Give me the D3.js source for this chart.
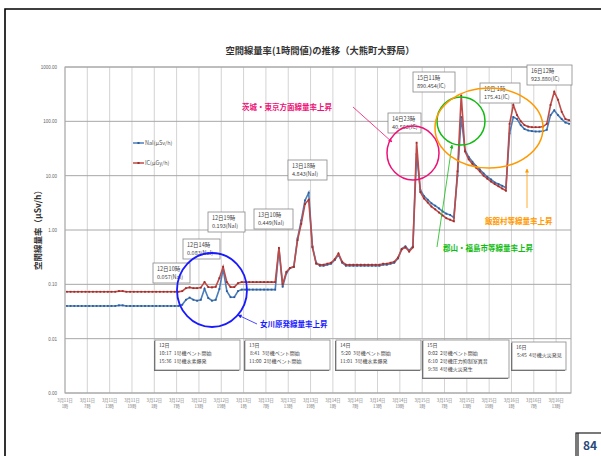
<!DOCTYPE html>
<html><head><meta charset="utf-8">
<script src="https://cdn.jsdelivr.net/npm/d3@7"></script>
<style>
body{margin:0;background:#fff;}
svg{display:block;font-family:"Noto Sans CJK JP","Noto Sans",sans-serif;}
</style></head><body>
<div id="chart"></div>
<script>
// hourly categories, 3/11 1時 ...
var hourCount = 136
var categories = d3.range(hourCount).map(function(i) {
    var t = i + 1
    return "3月" + (11 + Math.floor(t / 24)) + "日 " + (t % 24) + "時"
})

// NaI (μSv/h)
var nai = [
    0.040, 0.040, 0.040, 0.040, 0.040, 0.040, 0.040, 0.040, 0.040, 0.040,
    0.040, 0.040, 0.040, 0.040, 0.041, 0.041, 0.040, 0.040, 0.040, 0.040,
    0.040, 0.040, 0.040, 0.040, 0.040, 0.040, 0.040, 0.040, 0.040, 0.040,
    0.040, 0.042, 0.052, 0.057, 0.052, 0.050, 0.052, 0.083, 0.056, 0.050,
    0.052, 0.082, 0.193, 0.075, 0.058, 0.058, 0.075, 0.080, 0.080, 0.080,
    0.080, 0.080, 0.080, 0.080, 0.080, 0.080, 0.080, 0.449, 0.090, 0.160,
    0.200, 0.210, 0.700, 1.500, 3.500, 4.843, 0.500, 0.250, 0.220, 0.220,
    0.230, 0.240, 0.280, 0.350, 0.250, 0.220, 0.220, 0.220, 0.220, 0.220,
    0.220, 0.220, 0.220, 0.220, 0.220, 0.230, 0.230, 0.240, 0.250, 0.300,
    0.450, 0.500, 0.420, 0.500, 25.0, 5.50, 4.20, 3.60, 3.10, 2.80,
    2.50, 2.20, 2.00, 1.90, 1.70, 10.0, 120, 30.0, 22.0, 18.0,
    15.0, 13.0, 11.0, 9.50, 8.50, 7.50, 7.00, 6.50, 6.00, 60.0,
    120, 110, 85.0, 72.0, 68.0, 66.0, 65.0, 65.0, 66.0, 70.0,
    130, 160, 130, 110, 95.0, 90.0
]

// IC (μGy/h)
var ic = [
    0.073, 0.073, 0.073, 0.073, 0.073, 0.073, 0.073, 0.073, 0.073, 0.073,
    0.073, 0.073, 0.073, 0.073, 0.075, 0.075, 0.073, 0.073, 0.073, 0.073,
    0.073, 0.073, 0.073, 0.073, 0.073, 0.073, 0.073, 0.073, 0.073, 0.073,
    0.073, 0.075, 0.085, 0.088, 0.085, 0.085, 0.087, 0.110, 0.089, 0.088,
    0.090, 0.130, 0.210, 0.110, 0.089, 0.089, 0.105, 0.110, 0.110, 0.110,
    0.110, 0.110, 0.110, 0.110, 0.110, 0.110, 0.110, 0.470, 0.100, 0.170,
    0.200, 0.210, 0.650, 1.300, 3.000, 3.600, 0.480, 0.240, 0.230, 0.230,
    0.240, 0.250, 0.290, 0.370, 0.260, 0.230, 0.230, 0.230, 0.230, 0.230,
    0.230, 0.230, 0.230, 0.230, 0.230, 0.240, 0.240, 0.250, 0.260, 0.310,
    0.440, 0.480, 0.400, 0.480, 40.5, 5.00, 3.80, 3.20, 2.70, 2.40,
    2.10, 1.85, 1.65, 1.55, 1.45, 12.0, 300, 28.0, 20.0, 16.5,
    14.0, 12.0, 10.0, 8.80, 7.80, 7.00, 6.40, 5.80, 5.30, 90.0,
    200, 130, 100, 85.0, 80.0, 78.0, 78.0, 78.0, 80.0, 90.0,
    200, 350, 250, 150, 110, 105
]

var yTicks = [0.001, 0.01, 0.1, 1, 10, 100, 1000]

// peak labels: [category index, line1, line2, box x, box y, box w]
var peakNotes = [
    [33, "12日10時", "0.057(NaI)", 153, 263, 37],
    [37, "12日14時", "0.083(NaI)", 183, 239, 37],
    [42, "12日19時", "0.193(NaI)", 208, 212, 37],
    [57, "13日10時", "0.449(NaI)", 254, 209, 39],
    [65, "13日18時", "4.843(NaI)", 288, 160, 39],
    [94, "14日23時", "40.563(IC)", 388, 113, 33],
    [106, "15日11時", "890.454(IC)", 413, 72, 42],
    [120, "16日 1時", "175.41(IC)", 480, 83, 40],
    [131, "16日12時", "923.880(IC)", 527, 65, 45]
]

var eventNotes = [
    [["12日", "10:17  1号機ベント開始", "15:36  1号機水素爆発"], 155, 340, 85, 30],
    [["13日", " 8:41  3号機ベント開始", "11:00  2号機ベント開始"], 245, 340, 85, 30],
    [["14日", " 5:20  3号機ベント開始", "11:01  3号機水素爆発"], 336, 340, 85, 30],
    [["15日", " 0:02  2号機ベント開始", " 6:10  2号機圧力抑制室異音", " 9:38  4号機火災発生"], 423, 340, 86, 38],
    [["16日", " 5:45  4号機火災発見"], 512, 342, 54, 28]
]

var width = 601, height = 456
var margin = { top: 67, right: 30, bottom: 63, left: 65 }

var svg = d3.select("#chart").append("svg")
    .attr("width", width)
    .attr("height", height)

// page frame
svg.append("path").attr("d", "M5,456V9H601").attr("fill", "none").attr("stroke", "#000").attr("stroke-width", 1.6)

var x = d3.scaleBand()
    .domain(categories)
    .range([margin.left, width - margin.right])

var y = d3.scaleLog()
    .domain([0.001, 1000])
    .range([height - margin.bottom, margin.top])

function cx(i) { return x(categories[i]) + x.bandwidth() / 2 }

// title
svg.append("text")
    .attr("x", 320).attr("y", 54)
    .attr("text-anchor", "middle")
    .style("font-size", "9.3px").style("font-weight", "bold").attr("fill", "#333")
    .text("空間線量率(1時間値)の推移（大熊町大野局）")

// vertical grid every 6 hours
var g = svg.append("g")
var tickCats = categories.filter(function(d, i) { return i % 6 == 0 })
g.selectAll(".vg")
    .data(tickCats)
    .enter().append("line")
    .attr("x1", function(d) { return x(d) }).attr("x2", function(d) { return x(d) })
    .attr("y1", y(1000)).attr("y2", y(0.001))
    .attr("stroke", "#c8c8c8").attr("stroke-width", 0.8)

// horizontal grid
g.selectAll(".hg")
    .data(yTicks)
    .enter().append("line")
    .attr("x1", margin.left).attr("x2", width - margin.right)
    .attr("y1", function(d) { return y(d) }).attr("y2", function(d) { return y(d) })
    .attr("stroke", "#a8a8a8").attr("stroke-width", 1)

g.append("rect")
    .attr("x", margin.left).attr("y", margin.top)
    .attr("width", width - margin.left - margin.right)
    .attr("height", height - margin.top - margin.bottom)
    .attr("fill", "none").attr("stroke", "#a8a8a8")

// y axis
var yAxis = d3.axisLeft(y).tickValues(yTicks).tickFormat(d3.format(".2f")).tickSize(0).tickPadding(8)
svg.append("g")
    .attr("transform", "translate(" + margin.left + ",0)")
    .call(yAxis)
    .call(function(s) { s.select(".domain").remove() })
    .selectAll("text").style("font-size", "4.5px").attr("fill", "#666")

svg.append("text")
    .attr("transform", "translate(41,228) rotate(-90)")
    .attr("text-anchor", "middle")
    .style("font-size", "8.5px").style("font-weight", "bold").attr("fill", "#333")
    .text("空間線量率（μSv/h）")

// x axis labels (two lines)
var xl = svg.append("g")
tickCats.forEach(function(d) {
    var parts = d.split(" ")
    var t = xl.append("text")
        .attr("x", x(d)).attr("y", y(0.001) + 9)
        .attr("text-anchor", "middle")
        .style("font-size", "4.2px").attr("fill", "#777")
    t.append("tspan").attr("x", x(d)).text(parts[0])
    t.append("tspan").attr("x", x(d)).attr("dy", 6).text(parts[1])
})

// series
var line = d3.line()
    .x(function(d, i) { return cx(i) })
    .y(function(d) { return y(d) })

var seriesList = [
    { name: "NaI(μSv/h)", values: nai, color: "#4a7ebb", mark: "#2e5c9a" },
    { name: "IC(μGy/h)", values: ic, color: "#be4b48", mark: "#9c2f2c" }
]

seriesList.forEach(function(s) {
    svg.append("path")
        .attr("d", line(s.values))
        .attr("fill", "none").attr("stroke", s.color).attr("stroke-width", 1.6)
    svg.append("g").selectAll("rect")
        .data(s.values)
        .enter().append("rect")
        .attr("x", function(d, i) { return cx(i) - 0.9 })
        .attr("y", function(d) { return y(d) - 0.9 })
        .attr("width", 1.8).attr("height", 1.8)
        .attr("fill", s.mark)
})

// legend
seriesList.forEach(function(s, i) {
    var ly = 143 + i * 20
    svg.append("line").attr("x1", 133).attr("x2", 144).attr("y1", ly).attr("y2", ly)
        .attr("stroke", s.color).attr("stroke-width", 1.5)
    svg.append("rect").attr("x", 137.5).attr("y", ly - 1).attr("width", 2).attr("height", 2).attr("fill", s.mark)
    svg.append("text").attr("x", 145).attr("y", ly + 2)
        .style("font-size", "5.5px").attr("fill", "#555").text(s.name)
})

// peak label boxes
peakNotes.forEach(function(p) {
    svg.append("rect").attr("x", p[3]).attr("y", p[4]).attr("width", p[5]).attr("height", 20)
        .attr("fill", "#fff").attr("stroke", "#888").attr("stroke-width", 0.8)
    svg.append("text").attr("x", p[3] + 4).attr("y", p[4] + 8)
        .style("font-size", "5.5px").attr("fill", "#444").text(p[1])
    svg.append("text").attr("x", p[3] + 4).attr("y", p[4] + 16)
        .style("font-size", "5.5px").attr("fill", "#444").text(p[2])
})

// event boxes
eventNotes.forEach(function(e) {
    svg.append("rect").attr("x", e[1] - 1).attr("y", e[2] + 1).attr("width", e[3]).attr("height", e[4])
        .attr("fill", "#666")
    svg.append("rect").attr("x", e[1]).attr("y", e[2]).attr("width", e[3]).attr("height", e[4])
        .attr("fill", "#fff").attr("stroke", "#888").attr("stroke-width", 0.8)
    e[0].forEach(function(t, k) {
        svg.append("text").attr("x", e[1] + 4).attr("y", e[2] + 7 + k * 8)
            .style("font-size", "5px").attr("fill", "#444").attr("xml:space", "preserve").text(t)
    })
})

// callouts
var defs = svg.append("defs")
function marker(id, color) {
    defs.append("marker").attr("id", id).attr("viewBox", "0 0 10 10")
        .attr("refX", 9).attr("refY", 5).attr("markerWidth", 5).attr("markerHeight", 5)
        .attr("orient", "auto")
        .append("path").attr("d", "M0,0L10,5L0,10z").attr("fill", color)
}
marker("ab", "#1a1aff"); marker("ap", "#ee1177"); marker("ag", "#11bb11"); marker("ao", "#ff9900")

svg.append("ellipse").attr("cx", 212).attr("cy", 290).attr("rx", 35).attr("ry", 37)
    .attr("fill", "none").attr("stroke", "#1a1aff").attr("stroke-width", 1.8)
svg.append("line").attr("x1", 257).attr("y1", 324).attr("x2", 238).attr("y2", 315)
    .attr("stroke", "#1a1aff").attr("stroke-width", 0.8).attr("marker-end", "url(#ab)")
svg.append("text").attr("x", 260).attr("y", 327).style("font-size", "7.5px").style("font-weight", "bold")
    .attr("fill", "#1a1aff").text("女川原発線量率上昇")

svg.append("ellipse").attr("cx", 413).attr("cy", 153).attr("rx", 26).attr("ry", 27)
    .attr("fill", "none").attr("stroke", "#ee1177").attr("stroke-width", 1.5)
svg.append("line").attr("x1", 353).attr("y1", 107).attr("x2", 392).attr("y2", 142)
    .attr("stroke", "#ee1177").attr("stroke-width", 0.8).attr("marker-end", "url(#ap)")
svg.append("text").attr("x", 242).attr("y", 110).style("font-size", "7.5px").style("font-weight", "bold")
    .attr("fill", "#ee1177").text("茨城・東京方面線量率上昇")

svg.append("ellipse").attr("cx", 461).attr("cy", 121).attr("rx", 24).attr("ry", 24)
    .attr("fill", "none").attr("stroke", "#11bb11").attr("stroke-width", 1.5)
svg.append("line").attr("x1", 437).attr("y1", 247).attr("x2", 452).attr("y2", 145)
    .attr("stroke", "#11bb11").attr("stroke-width", 0.8).attr("marker-end", "url(#ag)")
svg.append("text").attr("x", 443).attr("y", 251).style("font-size", "7.5px").style("font-weight", "bold")
    .attr("fill", "#11bb11").text("郡山・福島市等線量率上昇")

svg.append("ellipse").attr("cx", 489).attr("cy", 128).attr("rx", 54).attr("ry", 40)
    .attr("fill", "none").attr("stroke", "#ff9900").attr("stroke-width", 1.5)
svg.append("line").attr("x1", 527).attr("y1", 208).attr("x2", 527).attr("y2", 169)
    .attr("stroke", "#ff9900").attr("stroke-width", 0.8).attr("marker-end", "url(#ao)")
svg.append("text").attr("x", 485).attr("y", 224).style("font-size", "7.5px").style("font-weight", "bold")
    .attr("fill", "#ff9900").text("飯舘村等線量率上昇")

// page number
svg.append("rect").attr("x", 576).attr("y", 433).attr("width", 26).attr("height", 24)
    .attr("fill", "#fff").attr("stroke", "#222").attr("stroke-width", 1.2)
svg.append("line").attr("x1", 578).attr("y1", 433).attr("x2", 578).attr("y2", 456)
    .attr("stroke", "#222").attr("stroke-width", 1.2)
svg.append("text").attr("x", 590).attr("y", 450).attr("text-anchor", "middle")
    .style("font-size", "12px").style("font-weight", "bold").attr("fill", "#2a4a7a").text("84")
</script>
</body></html>
